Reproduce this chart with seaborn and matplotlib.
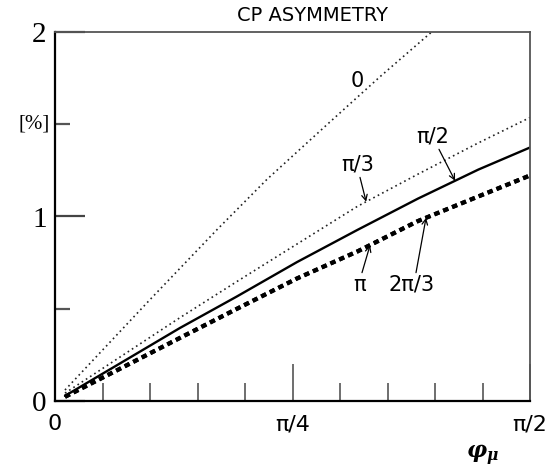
import numpy as np
import pandas as pd
import matplotlib
matplotlib.use("Agg")
import matplotlib.pyplot as plt
import seaborn as sns

# ---- data ----
phi = [0.033, 0.2, 0.413, 0.6, 0.8, 1.0, 1.2, 1.4, 1.5708]
phi_zero = [0.033, 0.314, 0.536, 0.701, 0.9, 1.075, 1.247, 1.30]
asym_zero = [0.057, 0.548, 0.929, 1.202, 1.50, 1.76, 2.005, 2.08]
asym_pi3 = [0.04, 0.22, 0.45, 0.645, 0.85, 1.055, 1.23, 1.40, 1.538]
asym_pi2 = [0.025, 0.187, 0.394, 0.564, 0.752, 0.927, 1.097, 1.255, 1.375]
asym_2pi3 = [0.02, 0.16, 0.34, 0.497, 0.663, 0.81, 0.975, 1.109, 1.223]
asym_pi = [0.02, 0.16, 0.34, 0.497, 0.663, 0.81, 0.975, 1.109, 1.223]

x_ticks = [0, np.pi / 4, np.pi / 2]
x_tick_labels = ["0", "π/4", "π/2"]
y_ticks = [0, 1, 2]
y_tick_labels = ["0", "1", "2"]

SANS = "DejaVu Sans"
SERIF = "Liberation Serif"

sns.set_style("white")
plt.rcParams["font.family"] = [SANS]
plt.rcParams["text.color"] = "black"
plt.rcParams["xtick.color"] = "black"
plt.rcParams["ytick.color"] = "black"
plt.rcParams["mathtext.fontset"] = "custom"
plt.rcParams["mathtext.it"] = "DejaVu Serif:italic:bold"
plt.rcParams["mathtext.rm"] = "DejaVu Serif:bold"

fig = plt.figure(figsize=(5.52, 4.69), dpi=100)
ax = fig.add_axes([55 / 552, 1 - 400.5 / 469, 475 / 552, 368 / 469])

dot_fine = (0, (1, 2))
dot_thick = (0, (1.3, 1.0))

sns.lineplot(x=phi_zero, y=asym_zero, ax=ax, color="#222222", lw=1.2,
             linestyle=dot_fine, sort=False, estimator=None)
sns.lineplot(x=phi, y=asym_pi3, ax=ax, color="#222222", lw=1.2,
             linestyle=dot_fine, sort=False, estimator=None)
sns.lineplot(x=phi, y=asym_pi2, ax=ax, color="black", lw=1.7,
             linestyle="-", sort=False, estimator=None)
sns.lineplot(x=phi, y=asym_2pi3, ax=ax, color="black", lw=3.0,
             linestyle=dot_thick, sort=False, estimator=None)
sns.lineplot(x=phi, y=asym_pi, ax=ax, color="black", lw=3.0,
             linestyle=dot_thick, sort=False, estimator=None)
for ln in ax.lines:
    ln.set_dash_capstyle("butt")

ax.set_xlim(0, np.pi / 2)
ax.set_ylim(0, 2)

# ticks
ax.set_xticks(x_ticks)
ax.set_xticklabels(x_tick_labels, fontsize=16, fontfamily=SANS)
ax.set_xticks([k * np.pi / 20 for k in range(1, 10) if k != 5], minor=True)
ax.set_yticks(y_ticks)
ax.set_yticklabels(y_tick_labels, fontsize=21, fontfamily=SERIF)
ax.set_yticks([0.5, 1.5], minor=True)
ax.tick_params(axis="both", which="both", bottom=True, left=True,
               top=False, right=False)
ax.tick_params(axis="x", which="major", direction="in", length=26.6, width=1.2,
               color="#555555", pad=10)
ax.tick_params(axis="x", which="minor", direction="in", length=13, width=1.2,
               color="#555555")
ax.tick_params(axis="y", which="major", direction="in", length=21.6, width=1.6,
               color="#444444", pad=6)
ax.tick_params(axis="y", which="minor", direction="in", length=10.8, width=1.6,
               color="#555555")

for side in ["left", "bottom"]:
    ax.spines[side].set_color("black")
    ax.spines[side].set_linewidth(1.6)
for side in ["top", "right"]:
    ax.spines[side].set_color("#555555")
    ax.spines[side].set_linewidth(1.3)

ax.text(-0.01, 1.5, "[%]", transform=ax.get_yaxis_transform(), ha="right",
        va="center", fontsize=15, fontfamily=SERIF)
ax.text(0.9, -0.148, r"$\varphi_\mu$", transform=ax.transAxes,
        ha="center", va="center", fontsize=16)
ax.text(0.543, 1.047, "CP ASYMMETRY", transform=ax.transAxes, ha="center",
        va="center", fontsize=14, fontfamily=SANS)


def px2x(px):
    return (px - 55) / 475 * np.pi / 2


def py2y(py):
    return (400.5 - py) / 183.5


arrow_kw = dict(arrowstyle="->", color="black", lw=0.9, mutation_scale=10,
                shrinkA=0, shrinkB=0)

# curve labels with arrows
ax.text(px2x(357), py2y(82), "0", ha="center", va="center", fontsize=15)
labels = [
    ("π/3", 358, 165, 360, 178, 1.029, asym_pi3),
    ("π/2", 433, 137, 439, 150, 1.323, asym_pi2),
    ("π", 360, 285, 362, 273, 1.042, asym_pi),
    ("2π/3", 412, 285, 416, 273, 1.227, asym_2pi3),
]
for txt, tx, ty, ax_px, ay_px, tipx, curve in labels:
    ax.text(px2x(tx), py2y(ty), txt, ha="center", va="center", fontsize=15)
    tipy = float(np.interp(tipx, phi, curve))
    ax.annotate("", xy=(tipx, tipy), xytext=(px2x(ax_px), py2y(ay_px)),
                arrowprops=arrow_kw)

fig.savefig("out.png", dpi=100)
